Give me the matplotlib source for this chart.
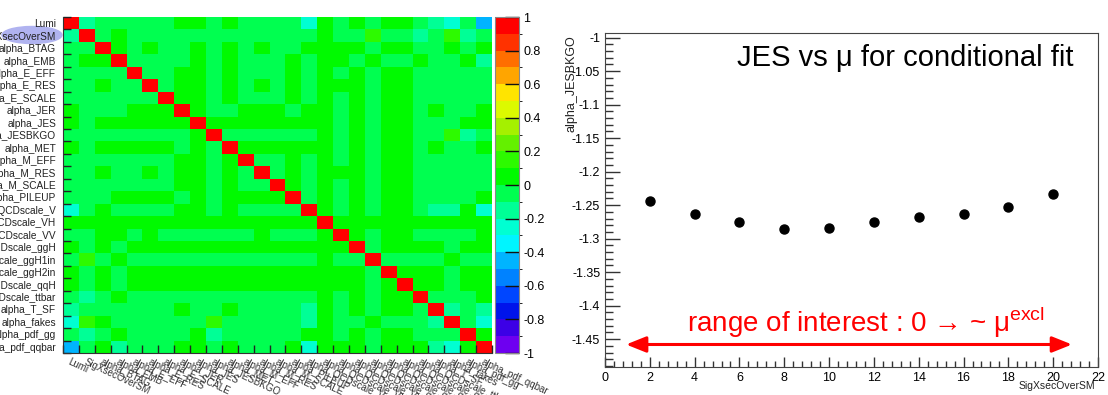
import numpy as np
import matplotlib.pyplot as plt
from matplotlib.colors import ListedColormap, BoundaryNorm
from matplotlib.patches import Ellipse
from matplotlib.ticker import FuncFormatter, MultipleLocator

plt.rcParams["font.family"] = ["Liberation Sans", "DejaVu Sans"]
plt.rcParams["mathtext.fontset"] = "custom"
plt.rcParams["mathtext.rm"] = "Liberation Sans"
plt.rcParams["axes.unicode_minus"] = False

W, H = 1108, 395

params = [
    "Lumi", "SigXsecOverSM", "alpha_BTAG", "alpha_EMB", "alpha_E_EFF",
    "alpha_E_RES", "alpha_E_SCALE", "alpha_JER", "alpha_JES", "alpha_JESBKGO",
    "alpha_MET", "alpha_M_EFF", "alpha_M_RES", "alpha_M_SCALE", "alpha_PILEUP",
    "alpha_QCDscale_V", "alpha_QCDscale_VH", "alpha_QCDscale_VV",
    "alpha_QCDscale_ggH", "alpha_QCDscale_ggH1in", "alpha_QCDscale_ggH2in",
    "alpha_QCDscale_qqH", "alpha_QCDscale_ttbar", "alpha_T_SF", "alpha_fakes",
    "alpha_pdf_gg", "alpha_pdf_qqbar",
]

# correlation level of each cell, upper triangle, each row starts at the diagonal
corr_code = {"R": 1.0, "Y": 0.15, "G": 0.05, "S": -0.05, "A": -0.15, "C": -0.25, "B": -0.45}
corr_rows = [
    "RASSSSSGGSGSSSSCGSGSGGSACSB",
    "RSGSSSSSSSSSSSSGSSYSSASYAS",
    "RGSGSSGSGSGSSGGGGSGGSSGSG",
    "RSSSSGSGSSSGSGGSGSSGSSGA",
    "RSSGGSGSSSGSGSGSGGSSSSS",
    "RSGGSGSGSGSGGGSGGSSSSS",
    "RGGSGSSSGSGSGSGGSSSSS",
    "RGSSGGGSGGSGSGGSGSSG",
    "RGGGGGGGGSGSGGSSSGG",
    "RSSSSSSGSGSGGSSYAS",
    "RGGGGGGSGSGGSGSSG",
    "RSSGSGSGSGGSSSSS",
    "RSGSGGGSGGSSSSS",
    "RGSGSGSGGSSSSS",
    "RSGSGSGGSSSSG",
    "RGSGSGGSAAGC",
    "RGGGGGGGGGG",
    "RGSGGSSSSG",
    "RSGGGGSGG",
    "RSSSSGSS",
    "RGGGSGG",
    "RGGSGG",
    "RSSSG",
    "RASA",
    "RSC",
    "RG",
    "R",
]

# ROOT-like palette, from -1 up to 1
palette = [
    (110, 0, 240), (60, 0, 230), (0, 20, 235), (0, 70, 255), (0, 130, 255),
    (0, 180, 255), (0, 245, 255), (0, 255, 210), (0, 255, 150), (0, 255, 80),
    (0, 250, 0), (45, 250, 0), (100, 240, 0), (165, 240, 0), (220, 250, 0),
    (255, 228, 0), (255, 165, 0), (255, 110, 0), (255, 50, 0), (255, 0, 0),
]

mu = [2, 4, 6, 8, 10, 12, 14, 16, 18, 20]
jes = [-1.2437, -1.2637, -1.275, -1.2856, -1.2842, -1.275, -1.2677, -1.263, -1.2527, -1.2332]

n = len(params)
corr = np.zeros((n, n))
for i, row in enumerate(corr_rows):
    assert len(row) == n - i, (i, len(row))
    for k, c in enumerate(row):
        corr[i, i + k] = corr[i + k, i] = corr_code[c]

cmap = ListedColormap([tuple(v / 255 for v in c) for c in palette])
norm = BoundaryNorm(np.linspace(-1, 1, 21), cmap.N)


def fmt(v, _):
    v = round(v, 2)
    if abs(v) < 1e-9:
        return "0"
    return f"{v:g}"


fig = plt.figure(figsize=(W / 100, H / 100), dpi=100)

# left: correlation matrix
ax1 = fig.add_axes([63 / W, 1 - 353 / H, 429 / W, 336 / H])
im = ax1.imshow(corr, cmap=cmap, norm=norm, aspect="auto", interpolation="nearest")
ax1.set_xticks(range(n))
ax1.set_xticklabels(params, rotation=-25, ha="left", va="top",
                    rotation_mode="anchor", fontsize=7, color="#333333")
ax1.set_yticks(range(n))
ax1.set_yticklabels(params, fontsize=7.3, color="#222222")
ax1.tick_params(which="major", length=0)
ax1.tick_params(axis="y", which="major", pad=5)
ax1.tick_params(axis="x", which="major", pad=3)
ax1.set_xticks(np.arange(-0.5, n), minor=True)
ax1.set_yticks(np.arange(-0.5, n), minor=True)
ax1.tick_params(which="minor", direction="in", length=6, width=1, color="#222222")
for s in ["top", "right"]:
    ax1.spines[s].set_visible(False)
for s in ["left", "bottom"]:
    ax1.spines[s].set_color("#333333")

cax = fig.add_axes([495 / W, 1 - 353 / H, 24 / W, 336 / H])
cb = fig.colorbar(im, cax=cax, ticks=np.linspace(-1, 1, 11))
cb.ax.yaxis.set_major_formatter(FuncFormatter(fmt))
cb.ax.tick_params(direction="in", length=10, width=1, labelsize=9, pad=3, color="#111111")
cb.outline.set_edgecolor("#888888")

fig.add_artist(Ellipse((32 / W, 1 - 35 / H), 60 / W, 17 / H, transform=fig.transFigure,
                       color=(0.69, 0.70, 0.94), zorder=-1))

# right: JES vs mu
ax2 = fig.add_axes([605 / W, 1 - 367 / H, 493 / W, 334 / H])
ax2.plot(mu, jes, "o", color="black", ms=6.5)
ax2.set_xlim(0, 22)
ax2.set_ylim(-1.4916, -0.993)
ax2.xaxis.set_major_locator(MultipleLocator(2))
ax2.xaxis.set_minor_locator(MultipleLocator(0.4))
ax2.yaxis.set_major_locator(MultipleLocator(0.05))
ax2.yaxis.set_minor_locator(MultipleLocator(0.01))
ax2.xaxis.set_major_formatter(FuncFormatter(fmt))
ax2.yaxis.set_major_formatter(FuncFormatter(fmt))
ax2.tick_params(which="both", direction="in", width=1, labelsize=9, color="#333333")
ax2.tick_params(axis="y", which="major", length=11)
ax2.tick_params(axis="y", which="minor", length=5.5)
ax2.tick_params(axis="x", which="major", length=7.5)
ax2.tick_params(axis="x", which="minor", length=4)
for s in ax2.spines.values():
    s.set_color("#444444")
fig.text(572 / W, 1 - 35 / H, "alpha_JESBKGO", rotation=90, ha="center", va="top",
         fontsize=9, color="#222222")
fig.text(1095 / W, 1 - 386 / H, "SigXsecOverSM", ha="right", va="center",
         fontsize=7.5, color="#222222")

ax2.text(13.4, -1.0305, "JES vs μ for conditional fit", fontsize=21, ha="center", va="center")
ax2.text(11.65, -1.425, r"range of interest : 0 → ~ μ$^{\mathrm{excl}}$", color="red",
         fontsize=20, ha="center", va="center")
ax2.annotate("", xy=(0.94, -1.458), xytext=(20.84, -1.458),
             arrowprops=dict(arrowstyle="<|-|>,head_length=1.0,head_width=0.4",
                             color="red", lw=2.2, mutation_scale=12,
                             shrinkA=0, shrinkB=0))

fig.savefig("out.png", dpi=100)
